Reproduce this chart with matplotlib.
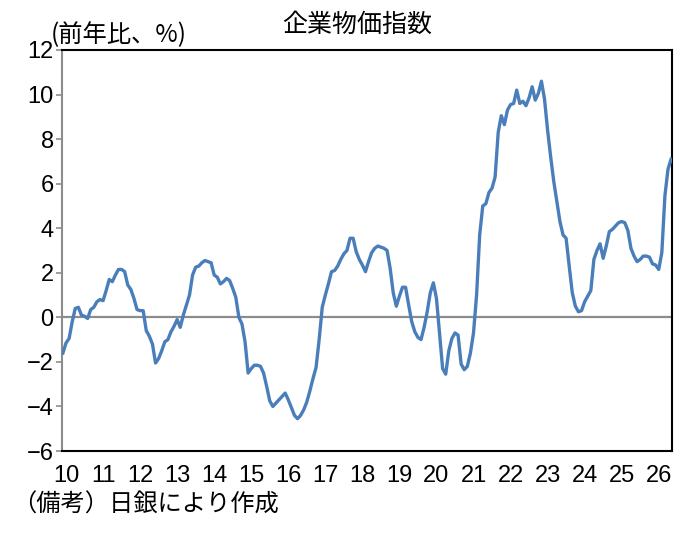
import matplotlib
matplotlib.use("Agg")
import matplotlib.pyplot as plt
import numpy as np

# Monthly y/y % change, Jan 2010 onward
cgpi = [
    # 2010
    -1.6, -1.15, -0.95, -0.2, 0.4, 0.45, 0.1, 0.05, -0.05, 0.35, 0.45, 0.7,
    # 2011
    0.8, 0.75, 1.2, 1.7, 1.6, 1.9, 2.15, 2.15, 2.05, 1.45, 1.25, 0.85,
    # 2012
    0.35, 0.3, 0.3, -0.6, -0.85, -1.2, -2.05, -1.85, -1.5, -1.1, -1.0, -0.65,
    # 2013
    -0.4, -0.1, -0.45, 0.1, 0.55, 1.0, 1.9, 2.25, 2.3, 2.45, 2.55, 2.5,
    # 2014
    2.45, 1.9, 1.8, 1.5, 1.6, 1.75, 1.65, 1.3, 0.9, 0.0, -0.3, -1.1,
    # 2015
    -2.5, -2.3, -2.15, -2.15, -2.2, -2.5, -3.1, -3.75, -4.0, -3.85, -3.7, -3.55,
    # 2016
    -3.4, -3.7, -4.05, -4.4, -4.55, -4.4, -4.15, -3.8, -3.3, -2.75, -2.25, -1.0,
    # 2017
    0.45, 1.0, 1.5, 2.05, 2.1, 2.3, 2.6, 2.85, 3.0, 3.55, 3.55, 2.95,
    # 2018
    2.6, 2.35, 2.05, 2.5, 2.9, 3.1, 3.2, 3.15, 3.1, 3.0, 2.2, 1.1,
    # 2019
    0.5, 0.95, 1.35, 1.35, 0.55, -0.2, -0.65, -0.9, -1.0, -0.45, 0.25, 1.1,
    # 2020
    1.55, 0.85, -0.7, -2.3, -2.55, -1.5, -0.95, -0.7, -0.8, -2.1, -2.35, -2.2,
    # 2021
    -1.6, -0.7, 1.0, 3.7, 5.0, 5.1, 5.6, 5.8, 6.3, 8.3, 9.05, 8.65,
    # 2022
    9.3, 9.55, 9.6, 10.2, 9.6, 9.7, 9.5, 9.85, 10.35, 9.75, 10.05, 10.6,
    # 2023
    9.8, 8.4, 7.2, 6.1, 5.2, 4.3, 3.7, 3.55, 2.3, 1.1, 0.5, 0.25,
    # 2024
    0.3, 0.7, 0.95, 1.2, 2.6, 3.0, 3.3, 2.65, 3.2, 3.85, 3.95, 4.1,
    # 2025
    4.25, 4.3, 4.25, 3.9, 3.1, 2.75, 2.5, 2.6, 2.75, 2.75, 2.7, 2.4,
    # 2026
    2.35, 2.15, 2.9, 5.45, 6.65, 7.1,
]
year_labels = ["10", "11", "12", "13", "14", "15", "16", "17", "18",
               "19", "20", "21", "22", "23", "24", "25", "26"]
y_ticks = [-6, -4, -2, 0, 2, 4, 6, 8, 10, 12]

title = "企業物価指数"
unit_label = "(前年比、%)"
note = "（備考）日銀により作成"

jp_font = ["Noto Sans CJK JP", "DejaVu Sans"]
num_font = ["Liberation Sans Narrow", "Liberation Sans", "DejaVu Sans"]

fig = plt.figure(figsize=(6.93, 5.33), dpi=100)
ax = fig.add_axes([62 / 693, 1 - 451 / 533, 610 / 693, 401 / 533])

x = np.arange(len(cgpi))
ax.axhline(0, color="#8c8c8c", lw=1.6, zorder=1)
ax.plot(x, cgpi, color="#4A7EBB", lw=2.4, zorder=3, solid_joinstyle="round")

ax.set_xlim(-0.3, len(cgpi) - 0.7)
ax.set_ylim(-6, 12)
ax.set_yticks(y_ticks)
ax.set_yticklabels([str(v).replace("-", "\u2212") for v in y_ticks],
                   fontfamily=num_font, fontsize=17)
ax.set_xticks([12 * i + 1 for i in range(len(year_labels))])
ax.set_xticklabels(year_labels, fontfamily=num_font, fontsize=17)
ax.tick_params(axis="x", length=0, pad=10)
ax.tick_params(axis="y", length=4, width=1.2, color="#8c8c8c", pad=2)

for side in ["top", "right", "bottom"]:
    ax.spines[side].set_color("black")
    ax.spines[side].set_linewidth(1.5)
ax.spines["left"].set_color("#8c8c8c")
ax.spines["left"].set_linewidth(1.5)

fig.text(357 / 693, 1 - 25 / 533, title, fontfamily=jp_font, fontsize=18,
         ha="center", va="center")
fig.text(51 / 693, 1 - 35 / 533, unit_label, fontfamily=jp_font, fontsize=17.5,
         ha="left", va="center")
fig.text(12 / 693, 1 - 505 / 533, note, fontfamily=jp_font, fontsize=17.5,
         ha="left", va="center")

fig.savefig("out.png", dpi=100)
